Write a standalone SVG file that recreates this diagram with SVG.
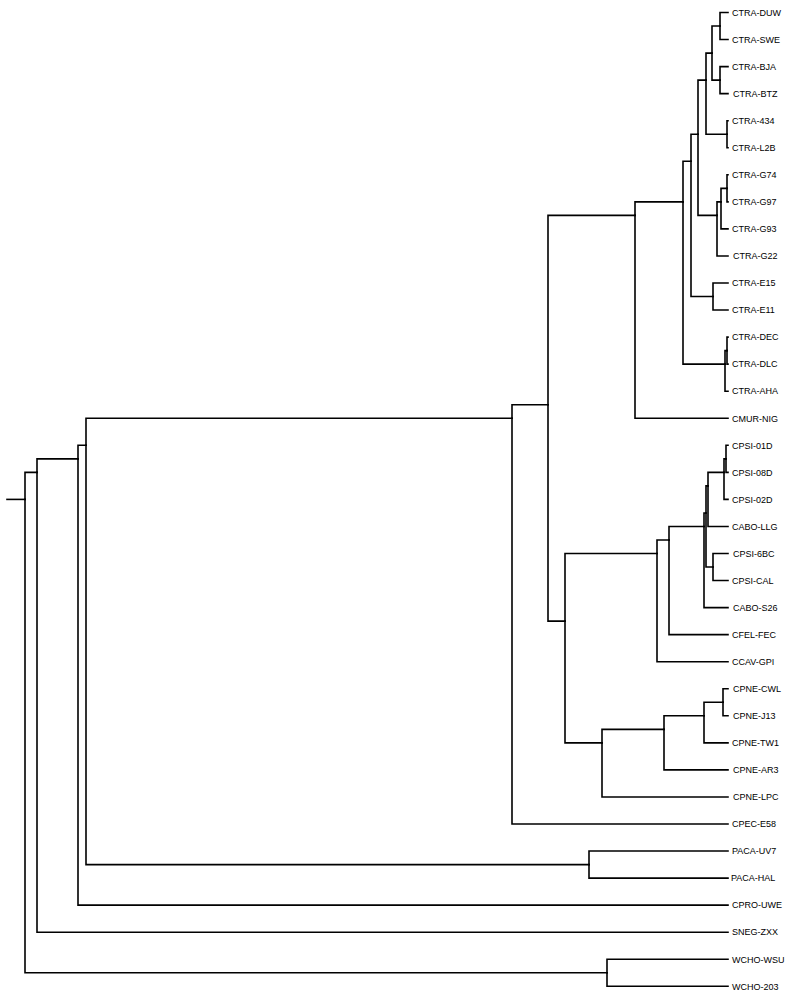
<svg xmlns="http://www.w3.org/2000/svg" width="792" height="1000" viewBox="0 0 792 1000">
<style>
.e{fill:none;stroke:#000;stroke-width:1.6;stroke-linecap:square;stroke-linejoin:miter}
text{font-family:"Liberation Sans",Arial,sans-serif;font-size:9px;fill:#000}
</style>
<rect width="792" height="1000" fill="#fff"/>
<g id="connectors" class="e">
<path class="e" d="M7,499.4H25"/>
<path class="e" d="M25,499.4V472.35H37"/>
<path class="e" d="M25,499.4V972.78H607"/>
<path class="e" d="M37,472.35V458.83H78"/>
<path class="e" d="M37,472.35V932.2H728"/>
<path class="e" d="M78,458.83V445.3H86"/>
<path class="e" d="M78,458.83V905.15H728"/>
<path class="e" d="M86,445.3V418.25H512"/>
<path class="e" d="M86,445.3V864.58H589"/>
<path class="e" d="M589,864.58V851.05H728"/>
<path class="e" d="M589,864.58V878.1H728"/>
<path class="e" d="M512,418.25V404.73H548"/>
<path class="e" d="M512,418.25V824H728"/>
<path class="e" d="M548,404.73V215.38H635"/>
<path class="e" d="M548,404.73V621.13H565"/>
<path class="e" d="M635,215.38V201.85H683"/>
<path class="e" d="M635,215.38V418.25H728"/>
<path class="e" d="M683,201.85V161.28H691"/>
<path class="e" d="M683,201.85V364.15H725"/>
<path class="e" d="M691,161.28V134.23H698"/>
<path class="e" d="M691,161.28V296.53H713"/>
<path class="e" d="M698,134.23V80.13H706"/>
<path class="e" d="M698,134.23V215.38H717"/>
<path class="e" d="M706,80.13V53.08H712"/>
<path class="e" d="M706,80.13V134.23H727"/>
<path class="e" d="M712,53.08V26.03H720"/>
<path class="e" d="M712,53.08V80.13H720"/>
<path class="e" d="M720,26.03V12.5H728"/>
<path class="e" d="M720,26.03V39.55H728"/>
<path class="e" d="M720,80.13V66.6H728"/>
<path class="e" d="M720,80.13V93.65H728"/>
<path class="e" d="M727,134.23V120.7H728"/>
<path class="e" d="M727,134.23V147.75H728"/>
<path class="e" d="M717,215.38V201.85H721"/>
<path class="e" d="M717,215.38V255.95H728"/>
<path class="e" d="M721,201.85V188.33H727"/>
<path class="e" d="M721,201.85V228.9H728"/>
<path class="e" d="M727,188.33V174.8H728"/>
<path class="e" d="M727,188.33V201.85H728"/>
<path class="e" d="M713,296.53V283H728"/>
<path class="e" d="M713,296.53V310.05H728"/>
<path class="e" d="M725,364.15V350.63H727"/>
<path class="e" d="M725,364.15V391.2H728"/>
<path class="e" d="M727,350.63V337.1H728"/>
<path class="e" d="M727,350.63V364.15H728"/>
<path class="e" d="M565,621.13V553.5H657"/>
<path class="e" d="M565,621.13V742.85H602"/>
<path class="e" d="M657,553.5V539.98H669"/>
<path class="e" d="M657,553.5V661.7H728"/>
<path class="e" d="M669,539.98V526.45H704"/>
<path class="e" d="M669,539.98V634.65H728"/>
<path class="e" d="M704,526.45V512.93H706"/>
<path class="e" d="M704,526.45V607.6H728"/>
<path class="e" d="M706,512.93V485.88H708"/>
<path class="e" d="M706,512.93V567.03H713"/>
<path class="e" d="M708,485.88V472.35H724"/>
<path class="e" d="M708,485.88V526.45H728"/>
<path class="e" d="M724,472.35V458.83H726"/>
<path class="e" d="M724,472.35V499.4H728"/>
<path class="e" d="M726,458.83V445.3H728"/>
<path class="e" d="M726,458.83V472.35H728"/>
<path class="e" d="M713,567.03V553.5H728"/>
<path class="e" d="M713,567.03V580.55H728"/>
<path class="e" d="M602,742.85V729.33H664"/>
<path class="e" d="M602,742.85V796.95H728"/>
<path class="e" d="M664,729.33V715.8H704"/>
<path class="e" d="M664,729.33V769.9H728"/>
<path class="e" d="M704,715.8V702.28H723"/>
<path class="e" d="M704,715.8V742.85H728"/>
<path class="e" d="M723,702.28V688.75H728"/>
<path class="e" d="M723,702.28V715.8H728"/>
<path class="e" d="M607,972.78V959.25H728"/>
<path class="e" d="M607,972.78V986.3H728"/>
</g>
<g id="leaves">
<g id="n-CTRA-DUW"><text x="732" y="15.7">CTRA-DUW</text></g>
<g id="n-CTRA-SWE"><text x="732" y="42.8">CTRA-SWE</text></g>
<g id="n-CTRA-BJA"><text x="732" y="69.8">CTRA-BJA</text></g>
<g id="n-CTRA-BTZ"><text x="733" y="96.9">CTRA-BTZ</text></g>
<g id="n-CTRA-434"><text x="732" y="123.9">CTRA-434</text></g>
<g id="n-CTRA-L2B"><text x="732" y="151">CTRA-L2B</text></g>
<g id="n-CTRA-G74"><text x="732" y="178">CTRA-G74</text></g>
<g id="n-CTRA-G97"><text x="732" y="205.1">CTRA-G97</text></g>
<g id="n-CTRA-G93"><text x="732" y="232.1">CTRA-G93</text></g>
<g id="n-CTRA-G22"><text x="733" y="259.2">CTRA-G22</text></g>
<g id="n-CTRA-E15"><text x="732" y="286.2">CTRA-E15</text></g>
<g id="n-CTRA-E11"><text x="732" y="313.3">CTRA-E11</text></g>
<g id="n-CTRA-DEC"><text x="732" y="340.3">CTRA-DEC</text></g>
<g id="n-CTRA-DLC"><text x="732" y="367.4">CTRA-DLC</text></g>
<g id="n-CTRA-AHA"><text x="732" y="394.4">CTRA-AHA</text></g>
<g id="n-CMUR-NIG"><text x="732" y="421.5">CMUR-NIG</text></g>
<g id="n-CPSI-01D"><text x="732" y="448.5">CPSI-01D</text></g>
<g id="n-CPSI-08D"><text x="732" y="475.6">CPSI-08D</text></g>
<g id="n-CPSI-02D"><text x="732" y="502.6">CPSI-02D</text></g>
<g id="n-CABO-LLG"><text x="732" y="529.7">CABO-LLG</text></g>
<g id="n-CPSI-6BC"><text x="733" y="556.7">CPSI-6BC</text></g>
<g id="n-CPSI-CAL"><text x="732" y="583.8">CPSI-CAL</text></g>
<g id="n-CABO-S26"><text x="733" y="610.8">CABO-S26</text></g>
<g id="n-CFEL-FEC"><text x="732" y="637.9">CFEL-FEC</text></g>
<g id="n-CCAV-GPI"><text x="732" y="664.9">CCAV-GPI</text></g>
<g id="n-CPNE-CWL"><text x="733" y="692">CPNE-CWL</text></g>
<g id="n-CPNE-J13"><text x="733" y="719">CPNE-J13</text></g>
<g id="n-CPNE-TW1"><text x="732" y="746.1">CPNE-TW1</text></g>
<g id="n-CPNE-AR3"><text x="733" y="773.1">CPNE-AR3</text></g>
<g id="n-CPNE-LPC"><text x="733" y="800.2">CPNE-LPC</text></g>
<g id="n-CPEC-E58"><text x="732" y="827.2">CPEC-E58</text></g>
<g id="n-PACA-UV7"><text x="732" y="854.3">PACA-UV7</text></g>
<g id="n-PACA-HAL"><text x="731" y="881.3">PACA-HAL</text></g>
<g id="n-CPRO-UWE"><text x="732" y="908.4">CPRO-UWE</text></g>
<g id="n-SNEG-ZXX"><text x="732" y="935.4">SNEG-ZXX</text></g>
<g id="n-WCHO-WSU"><text x="732" y="962.5">WCHO-WSU</text></g>
<g id="n-WCHO-203"><text x="732" y="989.5">WCHO-203</text></g>
</g>
</svg>
